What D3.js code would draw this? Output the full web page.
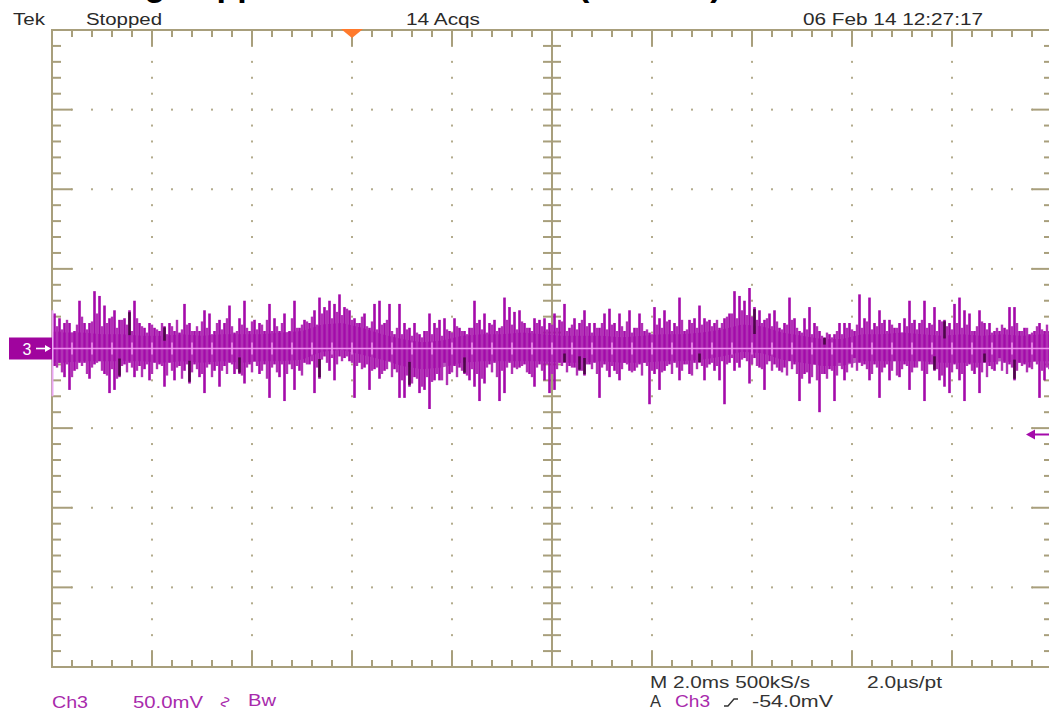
<!DOCTYPE html>
<html>
<head>
<meta charset="utf-8">
<script src="https://cdn.jsdelivr.net/npm/d3@7"></script>
<style>
html, body { margin: 0; padding: 0; background: #fff; overflow: hidden; }
svg { display: block; }
</style>
</head>
<body>
<div id="scope"></div>
<script>
// Ch3 trace, one column every 0.1 ms (200 columns over 20 ms), values in mV
const hiMV = [
    22, 19, 16, 16, 11, 30, 16, 16, 36, 33,
    27, 19, 24, 18, 19, 24, 30, 16, 13, 16,
    13, 11, 14, 16, 11, 10, 28, 16, 11, 11,
    24, 22, 11, 18, 16, 27, 10, 19, 30, 11,
    18, 16, 11, 28, 19, 11, 22, 11, 30, 13,
    18, 16, 24, 32, 26, 30, 28, 34, 26, 24,
    19, 16, 22, 13, 28, 30, 16, 28, 9, 28,
    16, 13, 16, 9, 11, 22, 16, 18, 19, 11,
    19, 13, 11, 13, 30, 18, 22, 16, 18, 13,
    32, 26, 23, 24, 16, 13, 19, 18, 19, 16,
    22, 18, 28, 13, 19, 16, 24, 16, 16, 13,
    22, 25, 16, 22, 11, 24, 13, 22, 11, 10,
    26, 19, 24, 18, 16, 32, 11, 18, 19, 27,
    19, 18, 16, 13, 19, 22, 36, 33, 30, 38,
    26, 24, 18, 22, 24, 13, 16, 32, 19, 11,
    19, 26, 16, 11, 7, 9, 9, 16, 16, 16,
    11, 34, 19, 32, 16, 24, 18, 18, 13, 16,
    19, 30, 18, 16, 30, 16, 26, 18, 18, 16,
    28, 32, 24, 22, 11, 24, 16, 16, 11, 11,
    13, 26, 26, 11, 13, 9, 11, 16, 11, 11
];
const loMV = [
    -11, -9, -18, -26, -14, -9, -9, -19, -10, -8,
    -16, -28, -26, -18, -10, -9, -18, -11, -13, -20,
    -9, -10, -24, -9, -20, -11, -14, -22, -10, -18,
    -28, -10, -14, -24, -11, -9, -16, -16, -22, -10,
    -8, -16, -10, -31, -10, -18, -33, -10, -26, -14,
    -9, -10, -28, -19, -5, -14, -20, -5, -6, -8,
    -31, -9, -12, -26, -13, -19, -14, -8, -13, -31,
    -31, -24, -18, -28, -26, -38, -20, -20, -9, -16,
    -11, -12, -16, -20, -24, -33, -22, -10, -9, -33,
    -28, -9, -12, -12, -10, -16, -24, -10, -20, -28,
    -26, -9, -9, -11, -12, -14, -17, -10, -9, -31,
    -10, -18, -14, -20, -9, -14, -14, -10, -9, -35,
    -16, -26, -14, -10, -9, -20, -10, -16, -9, -9,
    -20, -10, -14, -20, -35, -9, -14, -12, -6, -22,
    -6, -12, -26, -8, -10, -14, -12, -8, -10, -33,
    -16, -22, -10, -40, -16, -13, -33, -9, -20, -9,
    -6, -9, -10, -20, -10, -31, -12, -20, -8, -18,
    -10, -26, -12, -8, -33, -10, -14, -20, -24, -28,
    -10, -20, -33, -10, -16, -28, -9, -11, -14, -6,
    -9, -10, -20, -9, -10, -12, -8, -31, -20, -13
];
// smaller excursions between the columns above (offset by 0.05 ms), mV
const midHiMV = [
    14, 12, 18, 10, 15, 20, 12, 17, 22, 14,
    16, 20, 13, 18, 15, 11, 19, 14, 10, 15,
    12, 16, 9, 14, 18, 12, 15, 11, 14, 17,
    13, 9, 16, 12, 19, 14, 11, 15, 13, 17,
    12, 15, 18, 11, 14, 16, 10, 19, 13, 15,
    17, 20, 15, 22, 24, 19, 23, 21, 25, 18,
    16, 20, 14, 17, 12, 15, 18, 11, 13, 9,
    12, 8, 10, 7, 11, 9, 13, 8, 12, 10,
    14, 11, 9, 13, 16, 12, 10, 15, 11, 14,
    18, 15, 12, 17, 13, 11, 16, 14, 12, 15,
    13, 17, 11, 15, 12, 18, 14, 10, 13, 16,
    12, 15, 11, 14, 17, 10, 13, 16, 12, 9,
    15, 13, 17, 11, 14, 18, 12, 16, 13, 15,
    17, 14, 18, 16, 20, 22, 19, 24, 21, 20,
    18, 16, 19, 14, 17, 12, 15, 18, 13, 10,
    12, 9, 14, 8, 10, 7, 11, 9, 13, 12,
    15, 13, 17, 12, 14, 16, 11, 15, 13, 10,
    14, 16, 12, 18, 13, 15, 11, 17, 14, 12,
    16, 13, 15, 11, 14, 17, 12, 10, 13, 15,
    12, 14, 16, 11, 13, 10, 14, 12, 15, 11
];
const midLoMV = [
    -12, -15, -10, -18, -13, -11, -16, -12, -9, -14,
    -17, -13, -19, -11, -15, -12, -14, -18, -10, -16,
    -13, -11, -17, -14, -12, -19, -10, -15, -13, -16,
    -12, -18, -11, -14, -16, -10, -13, -17, -12, -15,
    -11, -14, -19, -12, -15, -10, -16, -13, -11, -17,
    -10, -8, -12, -7, -9, -6, -10, -8, -5, -9,
    -11, -13, -10, -14, -12, -16, -13, -18, -15, -20,
    -17, -22, -19, -24, -18, -21, -16, -20, -23, -15,
    -18, -14, -17, -13, -16, -19, -12, -15, -18, -14,
    -12, -16, -13, -11, -15, -18, -12, -14, -10, -16,
    -13, -11, -15, -12, -17, -14, -10, -13, -16, -12,
    -14, -11, -16, -13, -10, -15, -12, -17, -11, -14,
    -13, -15, -11, -16, -12, -14, -10, -17, -13, -11,
    -12, -9, -11, -8, -10, -6, -9, -7, -8, -10,
    -11, -13, -10, -14, -12, -15, -17, -13, -16, -19,
    -15, -18, -20, -16, -19, -14, -17, -13, -15, -12,
    -14, -11, -13, -16, -12, -15, -10, -14, -17, -13,
    -11, -15, -12, -14, -16, -10, -13, -17, -12, -15,
    -13, -16, -11, -14, -12, -15, -18, -13, -10, -14,
    -16, -12, -14, -11, -15, -13, -10, -14, -12, -15
];
// persistence band, one point every 0.4 ms
const bandHi = [10, 10, 9, 9, 8, 8, 9, 8, 9, 9, 9, 10, 11, 15, 16, 13, 9, 6, 4, 5,
    8, 9, 9, 10, 9, 8, 8, 8, 7, 8, 9, 9, 10, 12, 15, 14, 10, 8, 6, 6,
    9, 9, 10, 9, 8, 9, 8, 9, 8, 9];
const bandLo = [-9, -8, -8, -8, -8, -9, -8, -9, -8, -9, -8, -8, -7, -2, -1, -4, -7, -11, -13, -12,
    -9, -8, -8, -8, -8, -9, -9, -8, -9, -9, -8, -8, -7, -5, -2, -3, -7, -9, -11, -11,
    -8, -8, -8, -8, -9, -9, -9, -8, -9, -8];
// columns hit many times (dark persistence)
const darkUp = [15, 22, 140, 154, 178];
const darkDown = [13, 27, 37, 53, 71, 82, 102, 105, 106, 129, 176, 186, 192];

const triggerPosMs = 6.0;
const triggerLevelMV = -54;

const headerLabels = [
    { text: "Tek", x: 13, w: 32 },
    { text: "Stopped", x: 86, w: 76 },
    { text: "14 Acqs", x: 406, w: 74 },
    { text: "06 Feb 14 12:27:17", x: 803, w: 180 }
];

const footerLabels = [
    { text: "Ch3", x: 52, y: 708, w: 36, c: "#a82aac" },
    { text: "50.0mV", x: 133, y: 708, w: 70, c: "#a82aac" },
    { text: "Bw", x: 248, y: 706, w: 28, c: "#a82aac" },
    { text: "M 2.0ms 500kS/s", x: 650, y: 688, w: 160, c: "#333" },
    { text: "2.0\u00b5s/pt", x: 867, y: 688, w: 75, c: "#333" },
    { text: "A", x: 650, y: 707, w: 11, c: "#333" },
    { text: "Ch3", x: 675, y: 707, w: 35, c: "#a82aac" },
    { text: "-54.0mV", x: 752, y: 707, w: 81, c: "#333" }
];

const tan = "#a89f7c";
const dotColor = "#b3ab8c";
const purple = "#a40aaa";
const textFont = "'Liberation Sans', Arial, sans-serif";

const width = 1049, height = 723;
const svg = d3.select("#scope").append("svg")
    .attr("width", width)
    .attr("height", height);

const x = d3.scaleLinear().domain([0, 20]).range([52, 1052]);     // 2 ms/div
const y = d3.scaleLinear().domain([-200, 200]).range([667, 30]);  // 50 mV/div

// title of the page above (cut off, only descenders show)
svg.append("text")
    .attr("x", 64).attr("y", -4)
    .attr("font-family", textFont)
    .attr("font-weight", "bold")
    .attr("font-size", 34)
    .attr("fill", "#000")
    .text("Voltage ripple on the 12V rail ")
    .append("tspan")
    .attr("x", 578)
    .text("(no load)");

// graticule
const grid = svg.append("g");
const xMajor = d3.range(0, 21, 2);
const yMajor = d3.range(-200, 201, 50);
const xMinor = d3.range(0, 20.01, 0.4);
const yMinor = d3.range(-200, 200.01, 10);

// dotted division lines
xMajor.filter(v => v > 0 && v < 20 && v !== 10).forEach(v => {
    grid.selectAll(null).data(yMinor.slice(1, -1)).enter().append("rect")
        .attr("x", x(v) - 1).attr("y", d => y(d) - 1)
        .attr("width", 2).attr("height", 2)
        .attr("fill", dotColor);
});
yMajor.filter(v => v > -200 && v < 200 && v !== 0).forEach(v => {
    grid.selectAll(null).data(xMinor.slice(1, -1)).enter().append("rect")
        .attr("x", d => x(d) - 1).attr("y", y(v) - 1)
        .attr("width", 2).attr("height", 2)
        .attr("fill", dotColor);
});

// border
grid.append("rect")
    .attr("x", x(0)).attr("y", y(200))
    .attr("width", x(20) - x(0)).attr("height", y(-200) - y(200))
    .attr("fill", "none").attr("stroke", tan).attr("stroke-width", 2);

// centre cross
grid.append("line").attr("x1", x(10)).attr("x2", x(10)).attr("y1", y(200)).attr("y2", y(-200))
    .attr("stroke", tan).attr("stroke-width", 2);
grid.append("line").attr("x1", x(0)).attr("x2", x(20)).attr("y1", y(0)).attr("y2", y(0))
    .attr("stroke", tan).attr("stroke-width", 2);

const isMajorX = d => Math.abs(d / 2 - Math.round(d / 2)) < 1e-6;
const isMajorY = d => Math.abs(d / 50 - Math.round(d / 50)) < 1e-6;

// ticks on top / bottom border and on the horizontal centre line
grid.selectAll(null).data(xMinor).enter().append("line")
    .attr("x1", d => x(d)).attr("x2", d => x(d))
    .attr("y1", y(200)).attr("y2", d => y(200) + (isMajorX(d) ? 16 : 7))
    .attr("stroke", tan).attr("stroke-width", 2);
grid.selectAll(null).data(xMinor).enter().append("line")
    .attr("x1", d => x(d)).attr("x2", d => x(d))
    .attr("y1", y(-200)).attr("y2", d => y(-200) - (isMajorX(d) ? 16 : 7))
    .attr("stroke", tan).attr("stroke-width", 2);
grid.selectAll(null).data(xMinor).enter().append("line")
    .attr("x1", d => x(d)).attr("x2", d => x(d))
    .attr("y1", y(0) - 7).attr("y2", y(0) + 7)
    .attr("stroke", tan).attr("stroke-width", 2);

// ticks on left / right border and on the vertical centre line
grid.selectAll(null).data(yMinor).enter().append("line")
    .attr("y1", d => y(d)).attr("y2", d => y(d))
    .attr("x1", x(0)).attr("x2", d => x(0) + (isMajorY(d) ? 20 : 9))
    .attr("stroke", tan).attr("stroke-width", 2);
grid.selectAll(null).data(yMinor).enter().append("line")
    .attr("y1", d => y(d)).attr("y2", d => y(d))
    .attr("x1", x(20)).attr("x2", d => x(20) - (isMajorY(d) ? 20 : 8))
    .attr("stroke", tan).attr("stroke-width", 2);
grid.selectAll(null).data(yMinor).enter().append("line")
    .attr("y1", d => y(d)).attr("y2", d => y(d))
    .attr("x1", x(10) - 9).attr("x2", x(10) + 9)
    .attr("stroke", tan).attr("stroke-width", 2);

// trace
const trace = svg.append("g");

const bandPts = bandHi.map((h, k) => ({ t: k * 0.4 + 0.2, h: h, l: bandLo[k] }));
bandPts.unshift({ t: 0, h: bandHi[0], l: bandLo[0] });
bandPts.push({ t: 20, h: bandHi[bandHi.length - 1], l: bandLo[bandLo.length - 1] });

trace.append("path")
    .datum(bandPts)
    .attr("fill", "#b85abd")
    .attr("d", d3.area()
        .x(d => x(d.t))
        .y0(d => y(d.l))
        .y1(d => y(d.h)));

const mids = midHiMV.map((h, i) => ({ t: i * 0.1 + 0.1, hi: h, lo: midLoMV[i] }));
trace.selectAll(".mid")
    .data(mids)
    .enter()
    .append("line")
    .attr("class", "mid")
    .attr("x1", d => x(d.t)).attr("x2", d => x(d.t))
    .attr("y1", d => y(d.lo)).attr("y2", d => y(d.hi))
    .attr("stroke", "#b032b4")
    .attr("stroke-width", 2.4);

const cols = hiMV.map((h, i) => ({ i: i, t: i * 0.1 + 0.05, hi: h, lo: loMV[i] }));

trace.selectAll(".spike")
    .data(cols)
    .enter()
    .append("line")
    .attr("class", "spike")
    .attr("x1", d => x(d.t)).attr("x2", d => x(d.t))
    .attr("y1", d => y(d.lo)).attr("y2", d => y(d.hi))
    .attr("stroke", purple)
    .attr("stroke-width", 2.6);

trace.selectAll(".dark-up")
    .data(darkUp.map(i => cols[i]))
    .enter()
    .append("line")
    .attr("x1", d => x(d.t)).attr("x2", d => x(d.t))
    .attr("y1", d => y(d.hi * 0.35)).attr("y2", d => y(d.hi * 0.95))
    .attr("stroke", "#4c0748")
    .attr("stroke-width", 2.6);

trace.selectAll(".dark-down")
    .data(darkDown.map(i => cols[i]))
    .enter()
    .append("line")
    .attr("x1", d => x(d.t)).attr("x2", d => x(d.t))
    .attr("y1", d => y(d.lo * 0.35)).attr("y2", d => y(d.lo * 0.95))
    .attr("stroke", "#4c0748")
    .attr("stroke-width", 2.6);

// bright ground-level line with its ticks showing through
trace.append("line")
    .attr("x1", x(0)).attr("x2", width)
    .attr("y1", y(0)).attr("y2", y(0))
    .attr("stroke", "#f08ef0").attr("stroke-width", 1.6);
trace.selectAll(null).data(xMinor.filter(d => d > 0)).enter().append("line")
    .attr("x1", d => x(d)).attr("x2", d => x(d))
    .attr("y1", y(0) - 6).attr("y2", y(0) + 6)
    .attr("stroke", "#f2a0f2").attr("stroke-width", 1.4);

// pale left edge of the trace
trace.append("line")
    .attr("x1", x(0) + 0.5).attr("x2", x(0) + 0.5)
    .attr("y1", y(24)).attr("y2", y(-30))
    .attr("stroke", "#e9a6f2").attr("stroke-width", 2);

// channel 3 ground marker
const mk = svg.append("g");
mk.append("rect")
    .attr("x", 9).attr("y", y(0) - 11)
    .attr("width", x(0) - 9).attr("height", 22)
    .attr("fill", "#a0049e");
mk.append("text")
    .attr("x", 27).attr("y", y(0) + 6)
    .attr("text-anchor", "middle")
    .attr("font-family", textFont)
    .attr("font-size", 16)
    .attr("fill", "#fff")
    .text("3");
mk.append("line")
    .attr("x1", 36).attr("x2", 46)
    .attr("y1", y(0)).attr("y2", y(0))
    .attr("stroke", "#fff").attr("stroke-width", 1.6);
mk.append("path")
    .attr("d", `M51,${y(0)} L45,${y(0) - 3.5} L45,${y(0) + 3.5} Z`)
    .attr("fill", "#fff");

// trigger level arrow (right edge)
const ty = y(triggerLevelMV);
svg.append("line")
    .attr("x1", 1032).attr("x2", width)
    .attr("y1", ty).attr("y2", ty)
    .attr("stroke", purple).attr("stroke-width", 2);
svg.append("path")
    .attr("d", `M1026,${ty} L1035,${ty - 5} L1035,${ty + 5} Z`)
    .attr("fill", purple);

// trigger position marker (top)
const tx = x(triggerPosMs);
svg.append("path")
    .attr("d", `M${tx - 11},${y(200) - 1} L${tx + 11},${y(200) - 1} L${tx},${y(200) + 8} Z`)
    .attr("fill", "#ff7a2c");

// readouts
svg.selectAll(".hdr")
    .data(headerLabels)
    .enter()
    .append("text")
    .attr("class", "hdr")
    .attr("x", d => d.x).attr("y", 25)
    .attr("textLength", d => d.w)
    .attr("lengthAdjust", "spacingAndGlyphs")
    .attr("font-family", textFont)
    .attr("font-size", 16)
    .attr("fill", "#2a2a2a")
    .text(d => d.text);

svg.selectAll(".ftr")
    .data(footerLabels)
    .enter()
    .append("text")
    .attr("class", "ftr")
    .attr("x", d => d.x).attr("y", d => d.y)
    .attr("textLength", d => d.w)
    .attr("lengthAdjust", "spacingAndGlyphs")
    .attr("font-family", textFont)
    .attr("font-size", 16)
    .attr("fill", d => d.c)
    .text(d => d.text);

// coupling symbol and rising-slope symbol
svg.append("text")
    .attr("x", 226).attr("y", 708)
    .attr("text-anchor", "middle")
    .attr("font-family", "'DejaVu Sans', sans-serif")
    .attr("font-size", 16)
    .attr("fill", "#a82aac")
    .attr("transform", "rotate(90,226,702)")
    .text("\u223f");
svg.append("path")
    .attr("d", "M724,706 L728,706 L734,699 L738,699")
    .attr("fill", "none")
    .attr("stroke", "#333")
    .attr("stroke-width", 1.4);
</script>
</body>
</html>
